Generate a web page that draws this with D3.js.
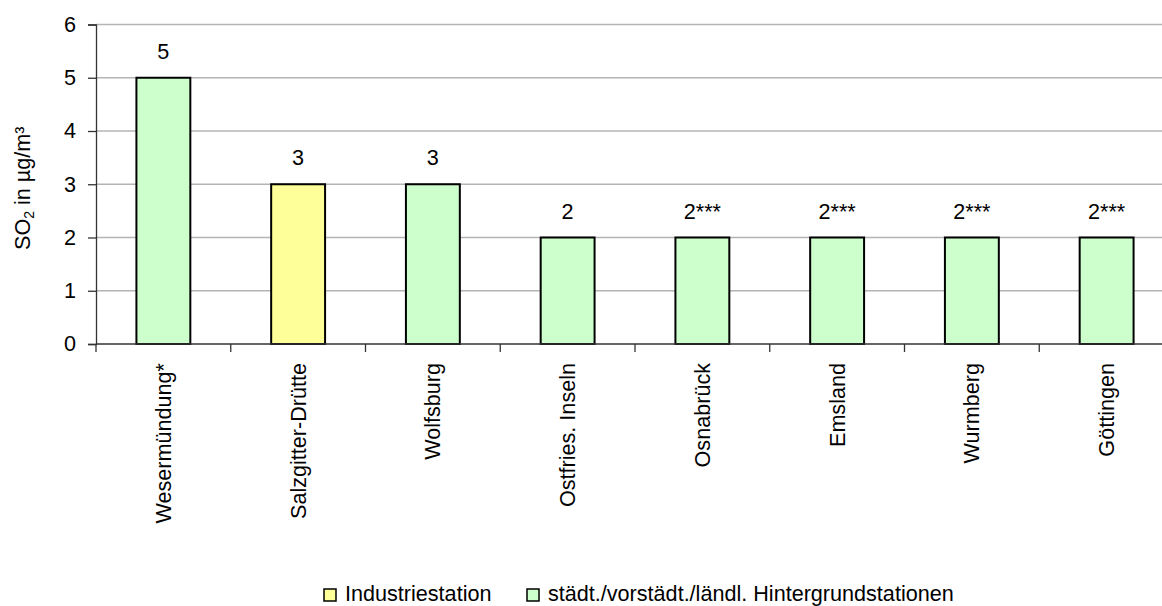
<!DOCTYPE html>
<html>
<head>
<meta charset="utf-8">
<script src="https://cdn.jsdelivr.net/npm/d3@7/dist/d3.min.js"></script>
<style>
  html, body { margin: 0; padding: 0; background: #fff; }
  svg { display: block; font-family: "Liberation Sans", Arial, sans-serif; }
</style>
</head>
<body>
<svg id="chart" width="1162" height="606"></svg>
<script>
// SO2 annual means per station
const stations = ["Wesermündung*", "Salzgitter-Drütte", "Wolfsburg", "Ostfries. Inseln",
                  "Osnabrück", "Emsland", "Wurmberg", "Göttingen"];
const values = [5, 3, 3, 2, 2, 2, 2, 2];
const valueLabels = ["5", "3", "3", "2", "2***", "2***", "2***", "2***"];
const stationType = ["bg", "ind", "bg", "bg", "bg", "bg", "bg", "bg"];
const yTicks = [0, 1, 2, 3, 4, 5, 6];
const legendKeys = ["ind", "bg"];
const legendNames = ["Industriestation", "städt./vorstädt./ländl. Hintergrundstationen"];

const colors = { ind: "#ffff99", bg: "#ccffcc" };

const svg = d3.select("#chart");
const plotLeft = 96, plotRight = 1174, plotTop = 24.5, plotBottom = 344;
const fs = 21.6;

const x = d3.scaleBand().domain(stations).range([plotLeft, plotRight]).paddingInner(0.6).paddingOuter(0.3);
const y = d3.scaleLinear().domain([0, 6]).range([plotBottom, plotTop]);

// horizontal gridlines
svg.append("g")
  .selectAll("line")
  .data(yTicks.filter(t => t > 0))
  .join("line")
  .attr("x1", plotLeft).attr("x2", plotRight)
  .attr("y1", d => y(d)).attr("y2", d => y(d))
  .attr("stroke", "#b4b4b4").attr("stroke-width", 1.5);

// bars
svg.append("g")
  .selectAll("rect")
  .data(stations)
  .join("rect")
  .attr("x", d => x(d))
  .attr("y", (d, i) => y(values[i]))
  .attr("width", x.bandwidth())
  .attr("height", (d, i) => y(0) - y(values[i]))
  .attr("fill", (d, i) => colors[stationType[i]])
  .attr("stroke", "#000").attr("stroke-width", 2);

// value labels
svg.append("g")
  .selectAll("text")
  .data(stations)
  .join("text")
  .attr("x", d => x(d) + x.bandwidth() / 2)
  .attr("y", (d, i) => y(values[i]) - 19)
  .attr("text-anchor", "middle")
  .attr("font-size", fs)
  .attr("fill", "#000")
  .text((d, i) => valueLabels[i]);

// y axis
const yAxis = svg.append("g")
  .attr("transform", `translate(${plotLeft},0)`)
  .call(d3.axisLeft(y).tickValues(yTicks).tickFormat(d3.format("d")).tickSize(8).tickPadding(12));
yAxis.select(".domain").attr("stroke", "#333").attr("stroke-width", 1.3);
yAxis.selectAll(".tick line").attr("stroke", "#333").attr("stroke-width", 1.3);
yAxis.selectAll(".tick text").attr("font-size", fs).attr("fill", "#000")
  .attr("font-family", "Liberation Sans, Arial, sans-serif");

// x axis line with ticks at category boundaries
svg.append("line")
  .attr("x1", plotLeft).attr("x2", plotRight)
  .attr("y1", plotBottom).attr("y2", plotBottom)
  .attr("stroke", "#333").attr("stroke-width", 1.3);
const bounds = d3.range(stations.length + 1).map(i => plotLeft + i * (plotRight - plotLeft) / stations.length);
svg.append("g")
  .selectAll("line")
  .data(bounds)
  .join("line")
  .attr("x1", d => d).attr("x2", d => d)
  .attr("y1", plotBottom).attr("y2", plotBottom + 8)
  .attr("stroke", "#333").attr("stroke-width", 1.3);

// rotated category labels
svg.append("g")
  .selectAll("text")
  .data(stations)
  .join("text")
  .attr("transform", d => `translate(${x(d) + x.bandwidth() / 2},${plotBottom + 19}) rotate(-90)`)
  .attr("text-anchor", "end")
  .attr("dy", "0.35em")
  .attr("font-size", fs)
  .attr("fill", "#000")
  .text(d => d);

// y axis title
const title = svg.append("text")
  .attr("transform", `translate(30,${(plotTop + plotBottom) / 2 + 4}) rotate(-90)`)
  .attr("text-anchor", "middle")
  .attr("font-size", fs)
  .attr("fill", "#000");
title.append("tspan").text("SO");
title.append("tspan").attr("font-size", fs * 0.65).attr("dy", 4).text("2");
title.append("tspan").attr("dy", -4).text(" in µg/m³");

// legend
const legendX = [324, 527];
const lg = svg.append("g");
legendKeys.forEach((k, i) => {
  lg.append("rect")
    .attr("x", legendX[i]).attr("y", 589)
    .attr("width", 12).attr("height", 12)
    .attr("fill", colors[k]).attr("stroke", "#000").attr("stroke-width", 1.5);
  lg.append("text")
    .attr("x", legendX[i] + 21).attr("y", 601)
    .attr("font-size", fs).attr("fill", "#000")
    .text(legendNames[i]);
});
</script>
</body>
</html>
